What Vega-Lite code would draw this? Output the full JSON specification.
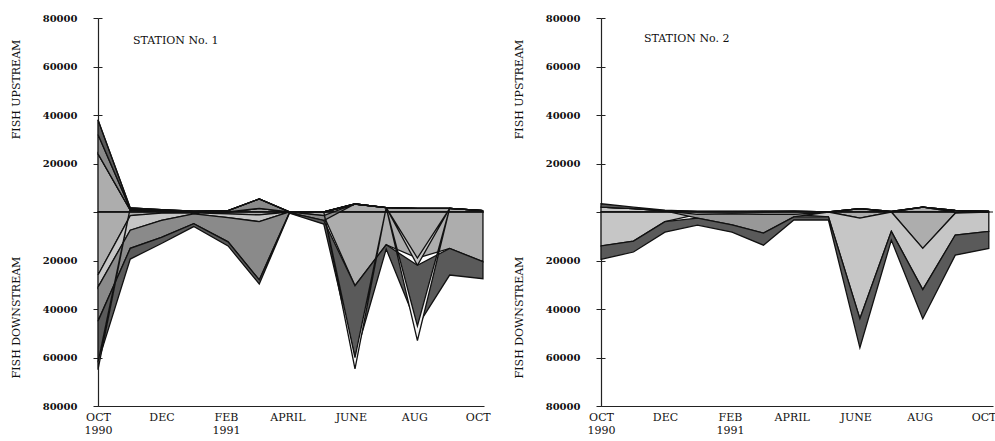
{
  "$schema": "https://vega.github.io/schema/vega-lite/v6.json",
  "background": "white",
  "padding": {"left": 10, "top": 13, "right": 2, "bottom": 2},
  "config": {
    "font": "DejaVu Serif",
    "view": {"stroke": null},
    "axis": {"labelFont": "DejaVu Serif", "titleFont": "DejaVu Serif", "labelColor": "#111", "titleColor": "#111", "domainColor": "#222", "tickColor": "#222", "domainWidth": 1.2, "grid": false},
    "title": {"font": "DejaVu Serif", "fontWeight": "normal", "fontSize": 11, "color": "#111"},
    "concat": {"spacing": 22}
  },
  "datasets": {
    "fish": [
      {"st":1,"d":"1990-10-01","sp":"V","o":1,"up":24000,"dn":-26000},
      {"st":1,"d":"1990-11-01","sp":"V","o":1,"up":800,"dn":-1500},
      {"st":1,"d":"1990-12-01","sp":"V","o":1,"up":300,"dn":-500},
      {"st":1,"d":"1991-01-01","sp":"V","o":1,"up":0,"dn":-300},
      {"st":1,"d":"1991-02-03","sp":"V","o":1,"up":0,"dn":-800},
      {"st":1,"d":"1991-03-05","sp":"V","o":1,"up":1500,"dn":-1200},
      {"st":1,"d":"1991-04-03","sp":"V","o":1,"up":0,"dn":0},
      {"st":1,"d":"1991-05-06","sp":"V","o":1,"up":0,"dn":-1500},
      {"st":1,"d":"1991-06-05","sp":"V","o":1,"up":3300,"dn":-30400},
      {"st":1,"d":"1991-07-05","sp":"V","o":1,"up":1800,"dn":-13500},
      {"st":1,"d":"1991-08-04","sp":"V","o":1,"up":1500,"dn":-19000},
      {"st":1,"d":"1991-09-04","sp":"V","o":1,"up":1500,"dn":-15000},
      {"st":1,"d":"1991-10-06","sp":"V","o":1,"up":600,"dn":-20500},
      {"st":1,"d":"1990-10-01","sp":"H","o":2,"up":0,"dn":-5000},
      {"st":1,"d":"1990-11-01","sp":"H","o":2,"up":0,"dn":-6000},
      {"st":1,"d":"1990-12-01","sp":"H","o":2,"up":0,"dn":-3000},
      {"st":1,"d":"1991-01-01","sp":"H","o":2,"up":0,"dn":-500},
      {"st":1,"d":"1991-02-03","sp":"H","o":2,"up":0,"dn":-1500},
      {"st":1,"d":"1991-03-05","sp":"H","o":2,"up":0,"dn":-2800},
      {"st":1,"d":"1991-04-03","sp":"H","o":2,"up":0,"dn":0},
      {"st":1,"d":"1991-05-06","sp":"H","o":2,"up":0,"dn":0},
      {"st":1,"d":"1991-06-05","sp":"H","o":2,"up":0,"dn":0},
      {"st":1,"d":"1991-07-05","sp":"H","o":2,"up":0,"dn":0},
      {"st":1,"d":"1991-08-04","sp":"H","o":2,"up":0,"dn":-3000},
      {"st":1,"d":"1991-09-04","sp":"H","o":2,"up":0,"dn":0},
      {"st":1,"d":"1991-10-06","sp":"H","o":2,"up":0,"dn":0},
      {"st":1,"d":"1990-10-01","sp":"G","o":3,"up":8000,"dn":-14000},
      {"st":1,"d":"1990-11-01","sp":"G","o":3,"up":500,"dn":-7500},
      {"st":1,"d":"1990-12-01","sp":"G","o":3,"up":500,"dn":-7000},
      {"st":1,"d":"1991-01-01","sp":"G","o":3,"up":300,"dn":-4000},
      {"st":1,"d":"1991-02-03","sp":"G","o":3,"up":600,"dn":-10000},
      {"st":1,"d":"1991-03-05","sp":"G","o":3,"up":3900,"dn":-24000},
      {"st":1,"d":"1991-04-03","sp":"G","o":3,"up":100,"dn":-300},
      {"st":1,"d":"1991-05-06","sp":"G","o":3,"up":0,"dn":-2000},
      {"st":1,"d":"1991-06-05","sp":"G","o":3,"up":0,"dn":0},
      {"st":1,"d":"1991-07-05","sp":"G","o":3,"up":0,"dn":0},
      {"st":1,"d":"1991-08-04","sp":"G","o":3,"up":0,"dn":0},
      {"st":1,"d":"1991-09-04","sp":"G","o":3,"up":0,"dn":0},
      {"st":1,"d":"1991-10-06","sp":"G","o":3,"up":0,"dn":0},
      {"st":1,"d":"1990-10-01","sp":"S","o":4,"up":6000,"dn":-17000},
      {"st":1,"d":"1990-11-01","sp":"S","o":4,"up":400,"dn":-4400},
      {"st":1,"d":"1990-12-01","sp":"S","o":4,"up":200,"dn":-2500},
      {"st":1,"d":"1991-01-01","sp":"S","o":4,"up":0,"dn":-1200},
      {"st":1,"d":"1991-02-03","sp":"S","o":4,"up":0,"dn":-1700},
      {"st":1,"d":"1991-03-05","sp":"S","o":4,"up":0,"dn":-1700},
      {"st":1,"d":"1991-04-03","sp":"S","o":4,"up":0,"dn":-200},
      {"st":1,"d":"1991-05-06","sp":"S","o":4,"up":0,"dn":-1500},
      {"st":1,"d":"1991-06-05","sp":"S","o":4,"up":0,"dn":-29600},
      {"st":1,"d":"1991-07-05","sp":"S","o":4,"up":0,"dn":-1800},
      {"st":1,"d":"1991-08-04","sp":"S","o":4,"up":0,"dn":-25000},
      {"st":1,"d":"1991-09-04","sp":"S","o":4,"up":0,"dn":-11000},
      {"st":1,"d":"1991-10-06","sp":"S","o":4,"up":0,"dn":-7000},
      {"st":1,"d":"1990-10-01","sp":"W","o":5,"up":0,"dn":-3000},
      {"st":1,"d":"1990-11-01","sp":"W","o":5,"up":0,"dn":0},
      {"st":1,"d":"1990-12-01","sp":"W","o":5,"up":0,"dn":0},
      {"st":1,"d":"1991-01-01","sp":"W","o":5,"up":0,"dn":0},
      {"st":1,"d":"1991-02-03","sp":"W","o":5,"up":0,"dn":0},
      {"st":1,"d":"1991-03-05","sp":"W","o":5,"up":0,"dn":0},
      {"st":1,"d":"1991-04-03","sp":"W","o":5,"up":0,"dn":0},
      {"st":1,"d":"1991-05-06","sp":"W","o":5,"up":0,"dn":0},
      {"st":1,"d":"1991-06-05","sp":"W","o":5,"up":0,"dn":-4700},
      {"st":1,"d":"1991-07-05","sp":"W","o":5,"up":0,"dn":0},
      {"st":1,"d":"1991-08-04","sp":"W","o":5,"up":0,"dn":-6000},
      {"st":1,"d":"1991-09-04","sp":"W","o":5,"up":0,"dn":0},
      {"st":1,"d":"1991-10-06","sp":"W","o":5,"up":0,"dn":0},

      {"st":2,"d":"1990-10-01","sp":"V","o":1,"up":0,"dn":0},
      {"st":2,"d":"1990-11-01","sp":"V","o":1,"up":0,"dn":0},
      {"st":2,"d":"1990-12-01","sp":"V","o":1,"up":0,"dn":0},
      {"st":2,"d":"1991-01-01","sp":"V","o":1,"up":0,"dn":0},
      {"st":2,"d":"1991-02-03","sp":"V","o":1,"up":0,"dn":0},
      {"st":2,"d":"1991-03-05","sp":"V","o":1,"up":0,"dn":0},
      {"st":2,"d":"1991-04-03","sp":"V","o":1,"up":0,"dn":0},
      {"st":2,"d":"1991-05-06","sp":"V","o":1,"up":0,"dn":0},
      {"st":2,"d":"1991-06-05","sp":"V","o":1,"up":1400,"dn":-2500},
      {"st":2,"d":"1991-07-05","sp":"V","o":1,"up":0,"dn":0},
      {"st":2,"d":"1991-08-04","sp":"V","o":1,"up":2000,"dn":-15000},
      {"st":2,"d":"1991-09-04","sp":"V","o":1,"up":0,"dn":-500},
      {"st":2,"d":"1991-10-06","sp":"V","o":1,"up":0,"dn":0},
      {"st":2,"d":"1990-10-01","sp":"H","o":2,"up":2000,"dn":-14000},
      {"st":2,"d":"1990-11-01","sp":"H","o":2,"up":1400,"dn":-12000},
      {"st":2,"d":"1990-12-01","sp":"H","o":2,"up":500,"dn":-4000},
      {"st":2,"d":"1991-01-01","sp":"H","o":2,"up":200,"dn":-1000},
      {"st":2,"d":"1991-02-03","sp":"H","o":2,"up":200,"dn":-800},
      {"st":2,"d":"1991-03-05","sp":"H","o":2,"up":0,"dn":-1000},
      {"st":2,"d":"1991-04-03","sp":"H","o":2,"up":300,"dn":-1000},
      {"st":2,"d":"1991-05-06","sp":"H","o":2,"up":0,"dn":-2000},
      {"st":2,"d":"1991-06-05","sp":"H","o":2,"up":0,"dn":-41500},
      {"st":2,"d":"1991-07-05","sp":"H","o":2,"up":300,"dn":-8000},
      {"st":2,"d":"1991-08-04","sp":"H","o":2,"up":0,"dn":-17000},
      {"st":2,"d":"1991-09-04","sp":"H","o":2,"up":700,"dn":-9000},
      {"st":2,"d":"1991-10-06","sp":"H","o":2,"up":300,"dn":-8000},
      {"st":2,"d":"1990-10-01","sp":"D","o":3,"up":0,"dn":0},
      {"st":2,"d":"1990-11-01","sp":"D","o":3,"up":0,"dn":0},
      {"st":2,"d":"1990-12-01","sp":"D","o":3,"up":0,"dn":0},
      {"st":2,"d":"1991-01-01","sp":"D","o":3,"up":0,"dn":-1500},
      {"st":2,"d":"1991-02-03","sp":"D","o":3,"up":0,"dn":-4500},
      {"st":2,"d":"1991-03-05","sp":"D","o":3,"up":300,"dn":-7700},
      {"st":2,"d":"1991-04-03","sp":"D","o":3,"up":0,"dn":-1000},
      {"st":2,"d":"1991-05-06","sp":"D","o":3,"up":0,"dn":0},
      {"st":2,"d":"1991-06-05","sp":"D","o":3,"up":0,"dn":0},
      {"st":2,"d":"1991-07-05","sp":"D","o":3,"up":0,"dn":0},
      {"st":2,"d":"1991-08-04","sp":"D","o":3,"up":0,"dn":0},
      {"st":2,"d":"1991-09-04","sp":"D","o":3,"up":0,"dn":0},
      {"st":2,"d":"1991-10-06","sp":"D","o":3,"up":0,"dn":0},
      {"st":2,"d":"1990-10-01","sp":"S","o":4,"up":1400,"dn":-5500},
      {"st":2,"d":"1990-11-01","sp":"S","o":4,"up":600,"dn":-4500},
      {"st":2,"d":"1990-12-01","sp":"S","o":4,"up":300,"dn":-4300},
      {"st":2,"d":"1991-01-01","sp":"S","o":4,"up":0,"dn":-2900},
      {"st":2,"d":"1991-02-03","sp":"S","o":4,"up":0,"dn":-3000},
      {"st":2,"d":"1991-03-05","sp":"S","o":4,"up":0,"dn":-5000},
      {"st":2,"d":"1991-04-03","sp":"S","o":4,"up":0,"dn":-1300},
      {"st":2,"d":"1991-05-06","sp":"S","o":4,"up":0,"dn":-1300},
      {"st":2,"d":"1991-06-05","sp":"S","o":4,"up":0,"dn":-12000},
      {"st":2,"d":"1991-07-05","sp":"S","o":4,"up":0,"dn":-3600},
      {"st":2,"d":"1991-08-04","sp":"S","o":4,"up":0,"dn":-12000},
      {"st":2,"d":"1991-09-04","sp":"S","o":4,"up":0,"dn":-8300},
      {"st":2,"d":"1991-10-06","sp":"S","o":4,"up":0,"dn":-7000}
    ]
  },
  "data": {"name": "fish"},
  "hconcat": [
    {
      "width": 386,
      "height": 388,
      "title": {"text": "STATION No. 1", "anchor": "start", "frame": "group", "orient": "top", "offset": -33, "dx": 35, "fontSize": 11},
      "layer": [
        {
          "transform": [{"filter": "datum.st == 1"}, {"fold": ["up", "dn"], "as": ["dir", "v"]}],
          "mark": {"type": "area", "stroke": "#111", "strokeWidth": 1.3, "interpolate": "linear"},
          "encoding": {
            "x": {"field": "d", "type": "temporal",
              "scale": {"type": "utc", "domain": [{"year": 1990, "month": 10, "date": 1, "utc": true}, {"year": 1991, "month": 10, "date": 7, "utc": true}]},
              "axis": {"title": null, "ticks": false, "labelFlush": false, "labelOverlap": false, "labelFontSize": 11, "labelPadding": 5, "labelLineHeight": 13,
                "values": [{"year": 1990, "month": 10, "date": 1, "utc": true}, {"year": 1990, "month": 12, "date": 1, "utc": true}, {"year": 1991, "month": 2, "date": 1, "utc": true}, {"year": 1991, "month": 4, "date": 1, "utc": true}, {"year": 1991, "month": 6, "date": 1, "utc": true}, {"year": 1991, "month": 8, "date": 1, "utc": true}, {"year": 1991, "month": 10, "date": 1, "utc": true}],
                "labelExpr": "utcmonth(datum.value)==9 ? (utcyear(datum.value)==1990 ? ['OCT','1990'] : 'OCT') : utcmonth(datum.value)==11 ? 'DEC' : utcmonth(datum.value)==1 ? ['FEB','1991'] : utcmonth(datum.value)==3 ? 'APRIL' : utcmonth(datum.value)==5 ? 'JUNE' : 'AUG'"}},
            "y": {"field": "v", "type": "quantitative", "stack": "zero",
              "scale": {"domain": [-80000, 80000], "nice": false},
              "axis": {"orient": "left", "values": [-80000, -60000, -40000, -20000, 0, 20000, 40000, 60000, 80000],
                "labelExpr": "datum.value == 0 ? '' : format(abs(datum.value), 'd')",
                "tickSize": 5, "labelPadding": 16, "labelFontSize": 10, "labelFontWeight": "bold",
                "title": "FISH UPSTREAM", "titleX": -77, "titleY": 71, "titleFontSize": 11, "titleFontWeight": "normal", "titleAngle": -90}},
            "fill": {"field": "sp", "type": "nominal", "legend": null,
              "scale": {"domain": ["V", "H", "G", "D", "S", "W"], "range": ["#adadad", "#c6c6c6", "#8a8a8a", "#989898", "#5a5a5a", "#f4f4f4"]}},
            "detail": {"field": "dir"},
            "order": {"field": "o", "type": "quantitative"}
          }
        },
        {
          "data": {"values": [{}]},
          "mark": {"type": "rule", "color": "#111", "strokeWidth": 1},
          "encoding": {
            "y": {"datum": 0, "type": "quantitative",
              "axis": {"orient": "left", "values": [-80000, -60000, -40000, -20000, 0, 20000, 40000, 60000, 80000],
                "labels": false, "domain": false, "tickSize": -4,
                "title": "FISH DOWNSTREAM", "titleX": -77, "titleY": 299, "titleFontSize": 11, "titleFontWeight": "normal", "titleAngle": -90}}
          }
        }
      ],
      "resolve": {"axis": {"y": "independent"}}
    },
    {
      "width": 392,
      "height": 388,
      "title": {"text": "STATION No. 2", "anchor": "start", "frame": "group", "orient": "top", "offset": -31, "dx": 43, "fontSize": 11},
      "layer": [
        {
          "transform": [{"filter": "datum.st == 2"}, {"fold": ["up", "dn"], "as": ["dir", "v"]}],
          "mark": {"type": "area", "stroke": "#111", "strokeWidth": 1.3, "interpolate": "linear"},
          "encoding": {
            "x": {"field": "d", "type": "temporal",
              "scale": {"type": "utc", "domain": [{"year": 1990, "month": 10, "date": 1, "utc": true}, {"year": 1991, "month": 10, "date": 10, "utc": true}]},
              "axis": {"title": null, "ticks": false, "labelFlush": false, "labelOverlap": false, "labelFontSize": 11, "labelPadding": 5, "labelLineHeight": 13,
                "values": [{"year": 1990, "month": 10, "date": 1, "utc": true}, {"year": 1990, "month": 12, "date": 1, "utc": true}, {"year": 1991, "month": 2, "date": 1, "utc": true}, {"year": 1991, "month": 4, "date": 1, "utc": true}, {"year": 1991, "month": 6, "date": 1, "utc": true}, {"year": 1991, "month": 8, "date": 1, "utc": true}, {"year": 1991, "month": 10, "date": 1, "utc": true}],
                "labelExpr": "utcmonth(datum.value)==9 ? (utcyear(datum.value)==1990 ? ['OCT','1990'] : 'OCT') : utcmonth(datum.value)==11 ? 'DEC' : utcmonth(datum.value)==1 ? ['FEB','1991'] : utcmonth(datum.value)==3 ? 'APRIL' : utcmonth(datum.value)==5 ? 'JUNE' : 'AUG'"}},
            "y": {"field": "v", "type": "quantitative", "stack": "zero",
              "scale": {"domain": [-80000, 80000], "nice": false},
              "axis": {"orient": "left", "values": [-80000, -60000, -40000, -20000, 0, 20000, 40000, 60000, 80000],
                "labelExpr": "datum.value == 0 ? '' : format(abs(datum.value), 'd')",
                "tickSize": 5, "labelPadding": 16, "labelFontSize": 10, "labelFontWeight": "bold",
                "title": "FISH UPSTREAM", "titleX": -77, "titleY": 71, "titleFontSize": 11, "titleFontWeight": "normal", "titleAngle": -90}},
            "fill": {"field": "sp", "type": "nominal", "legend": null,
              "scale": {"domain": ["V", "H", "G", "D", "S", "W"], "range": ["#adadad", "#c6c6c6", "#8a8a8a", "#989898", "#5a5a5a", "#f4f4f4"]}},
            "detail": {"field": "dir"},
            "order": {"field": "o", "type": "quantitative"}
          }
        },
        {
          "data": {"values": [{}]},
          "mark": {"type": "rule", "color": "#111", "strokeWidth": 1},
          "encoding": {
            "y": {"datum": 0, "type": "quantitative",
              "axis": {"orient": "left", "values": [-80000, -60000, -40000, -20000, 0, 20000, 40000, 60000, 80000],
                "labels": false, "domain": false, "tickSize": -4,
                "title": "FISH DOWNSTREAM", "titleX": -77, "titleY": 299, "titleFontSize": 11, "titleFontWeight": "normal", "titleAngle": -90}}
          }
        }
      ],
      "resolve": {"axis": {"y": "independent"}}
    }
  ]
}
